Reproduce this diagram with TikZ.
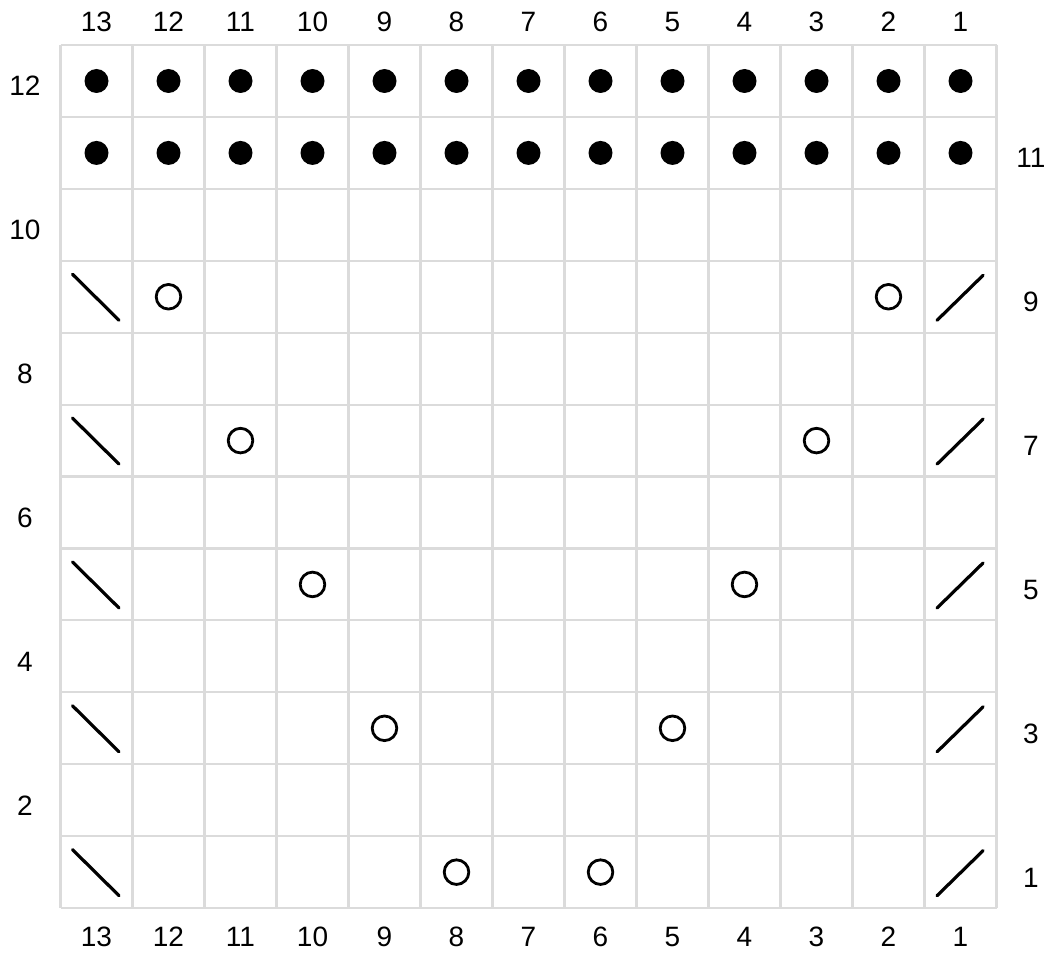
\documentclass[tikz,border=0pt]{standalone}
\usepackage{fontspec}
\setmainfont{Liberation Sans}
\begin{document}
\begin{tikzpicture}[x=1pt,y=-1pt,
  gridline/.style={draw=black!14,line width=2.2pt},
  lbl/.style={font=\fontsize{28}{32}\selectfont,inner sep=0pt,anchor=base},
  dotk/.style={fill=black},
  yo/.style={draw=black,line width=2.8pt},
  dec/.style={draw=black,line width=3.2pt,line cap=round}]
\useasboundingbox (0,0) rectangle (1051,955);
\def\xl{60.5}\def\yt{45}\def\cw{72}\def\rh{71.92}
% grid
\foreach \i in {0,...,13} \draw[gridline] ({\xl+\i*\cw},\yt) -- ({\xl+\i*\cw},{\yt+12*\rh});
\foreach \j in {0,...,12} \draw[gridline] (\xl,{\yt+\j*\rh}) -- ({\xl+13*\cw},{\yt+\j*\rh});
% column labels
\foreach \c in {1,...,13} {
  \node[lbl] (top\c) at ({\xl+(13-\c)*\cw+36},31.8) {\c};
  \node[lbl] (bot\c) at ({\xl+(13-\c)*\cw+36},946.5) {\c};
}
% row labels
\foreach \r in {2,4,...,12} \node[lbl] (L\r) at (25,{\yt+(12-\r)*\rh+36+15}) {\r};
\foreach \r in {1,3,...,11} \node[lbl] (R\r) at (1031,{\yt+(12-\r)*\rh+36+15}) {\r};
% purl dots rows 11,12
\foreach \r in {11,12} \foreach \c in {1,...,13}
  \fill[dotk] ({\xl+(13-\c)*\cw+36},{\yt+(12-\r)*\rh+36}) circle (12);
% decreases
\foreach \r in {1,3,5,7,9} {
  \draw[dec] ({\xl+12},{\yt+(12-\r)*\rh+13.5}) -- ({\xl+58.5},{\yt+(12-\r)*\rh+59.5});
  \draw[dec] ({\xl+12*\cw+12.6},{\yt+(12-\r)*\rh+59.5}) -- ({\xl+12*\cw+58.6},{\yt+(12-\r)*\rh+14.5});
}
% yarn overs
\foreach \r/\a/\b in {9/12/2,7/11/3,5/10/4,3/9/5,1/8/6} {
  \draw[yo] ({\xl+(13-\a)*\cw+36},{\yt+(12-\r)*\rh+36}) circle (12.3);
  \draw[yo] ({\xl+(13-\b)*\cw+36},{\yt+(12-\r)*\rh+36}) circle (12.3);
}
\end{tikzpicture}
\end{document}
